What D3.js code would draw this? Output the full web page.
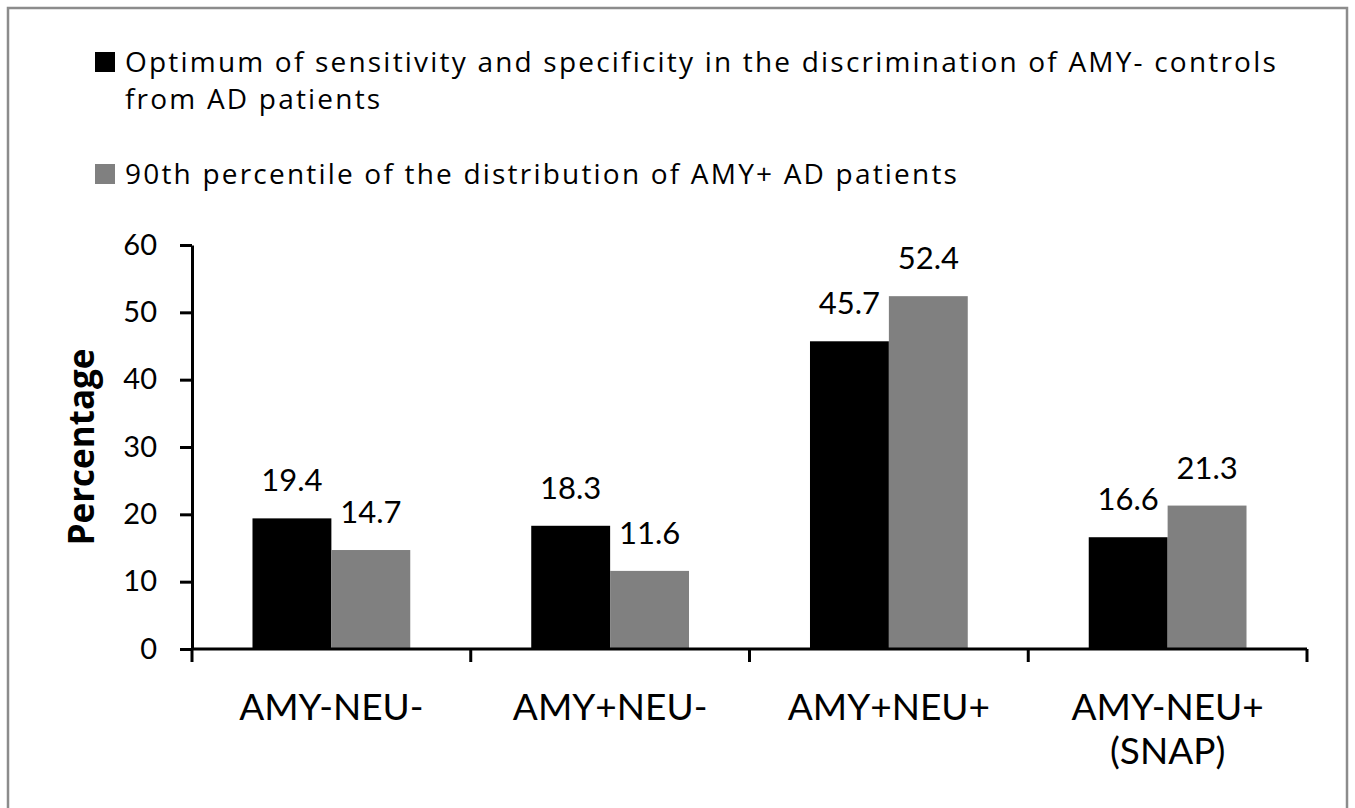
<!DOCTYPE html>
<html>
<head>
<meta charset="utf-8">
<script src="https://cdn.jsdelivr.net/npm/d3@7"></script>
<style>
  body { margin: 0; background: #fff; }
  text { font-family: Lato, "Open Sans", sans-serif; fill: #000; }
</style>
</head>
<body>
<svg id="chart" width="1355" height="808"></svg>
<script>
const categories = ["AMY-NEU-", "AMY+NEU-", "AMY+NEU+", "AMY-NEU+\n(SNAP)"];
const seriesNames = [
  "Optimum of sensitivity and specificity in the discrimination of AMY- controls\nfrom AD patients",
  "90th percentile of the distribution of AMY+ AD patients"
];
const optimumValues = [19.4, 18.3, 45.7, 16.6];
const percentileValues = [14.7, 11.6, 52.4, 21.3];
const yTicks = [0, 10, 20, 30, 40, 50, 60];
const colors = ["#000000", "#808080"];

const svg = d3.select("#chart");
const width = +svg.attr("width");
const height = +svg.attr("height");

// outer frame
svg.append("rect")
  .attr("x", 8).attr("y", 8)
  .attr("width", width - 16).attr("height", height + 10)
  .attr("fill", "none")
  .attr("stroke", "#8c8c8c")
  .attr("stroke-width", 2.5);

const plotLeft = 192, plotRight = 1307, plotTop = 245, plotBottom = 649;

const x = d3.scaleBand().domain(categories).range([plotLeft, plotRight])
  .paddingInner(0.434).paddingOuter(0.217);
const keys = ["s0", "s1"];
const xInner = d3.scaleBand().domain(keys).range([0, x.bandwidth()]);
const y = d3.scaleLinear().domain([0, 60]).range([plotBottom, plotTop]);

const rows = categories.map((c, i) => ({ cat: c, s0: optimumValues[i], s1: percentileValues[i] }));

// legend
const legend = svg.append("g");
seriesNames.forEach((name, i) => {
  const lines = name.split("\n");
  const baseY = i === 0 ? 72 : 184;
  legend.append("rect")
    .attr("x", 95).attr("y", baseY - 20)
    .attr("width", 20).attr("height", 20)
    .attr("fill", colors[i]);
  const t = legend.append("text")
    .attr("x", 125).attr("y", baseY)
    .style("font-family", "'Open Sans', sans-serif")
    .style("letter-spacing", "2.2px")
    .attr("font-size", 28);
  lines.forEach((ln, j) => {
    t.append("tspan").attr("x", 125).attr("dy", j === 0 ? 0 : 37).text(ln);
  });
});

// bars
const groups = svg.append("g").selectAll("g")
  .data(rows).join("g")
  .attr("transform", d => `translate(${x(d.cat)},0)`);

groups.selectAll("rect")
  .data(d => keys.map(k => ({ key: k, value: d[k] })))
  .join("rect")
  .attr("x", d => xInner(d.key))
  .attr("y", d => y(d.value))
  .attr("width", xInner.bandwidth())
  .attr("height", d => y(0) - y(d.value))
  .attr("fill", (d, i) => colors[i]);

groups.selectAll("text.val")
  .data(d => keys.map(k => ({ key: k, value: d[k] })))
  .join("text")
  .attr("class", "val")
  .attr("x", d => xInner(d.key) + xInner.bandwidth() / 2)
  .attr("y", d => y(d.value) - 27)
  .attr("text-anchor", "middle")
  .attr("font-size", 31)
  .text(d => d.value.toFixed(1));

// y axis
const yAxis = svg.append("g")
  .attr("transform", `translate(${plotLeft},0)`)
  .call(d3.axisLeft(y).tickValues(yTicks).tickSize(12).tickPadding(23).tickSizeOuter(0));
yAxis.selectAll("line, path").attr("stroke", "#000").attr("stroke-width", 3);
yAxis.selectAll("text")
  .attr("font-size", 29)
  .attr("font-family", "Lato, 'Open Sans', sans-serif")
  .attr("fill", "#000");

// x axis with ticks between categories
const step = x.step();
const bounds = categories.map(c => x(c) - step * x.paddingInner() / 2);
bounds.push(x(categories[categories.length - 1]) + x.bandwidth() + step * x.paddingInner() / 2);
svg.append("line")
  .attr("x1", plotLeft).attr("x2", plotRight)
  .attr("y1", plotBottom).attr("y2", plotBottom)
  .attr("stroke", "#000").attr("stroke-width", 3);
svg.append("g").selectAll("line")
  .data(bounds).join("line")
  .attr("x1", d => d).attr("x2", d => d)
  .attr("y1", plotBottom).attr("y2", plotBottom + 13)
  .attr("stroke", "#000").attr("stroke-width", 3);

// category labels
svg.append("g").selectAll("text")
  .data(categories).join("text")
  .attr("x", d => x(d) + x.bandwidth() / 2)
  .attr("y", 720)
  .attr("text-anchor", "middle")
  .attr("font-size", 37)
  .each(function (d) {
    const t = d3.select(this);
    d.split("\n").forEach((ln, j) => {
      t.append("tspan")
        .attr("x", x(d) + x.bandwidth() / 2)
        .attr("dy", j === 0 ? 0 : 44)
        .text(ln);
    });
  });

// y title
svg.append("text")
  .attr("transform", "translate(94,447) rotate(-90)")
  .attr("text-anchor", "middle")
  .style("font-family", "'Open Sans', sans-serif")
  .attr("font-size", 35)
  .attr("font-weight", "bold")
  .text("Percentage");
</script>
</body>
</html>
